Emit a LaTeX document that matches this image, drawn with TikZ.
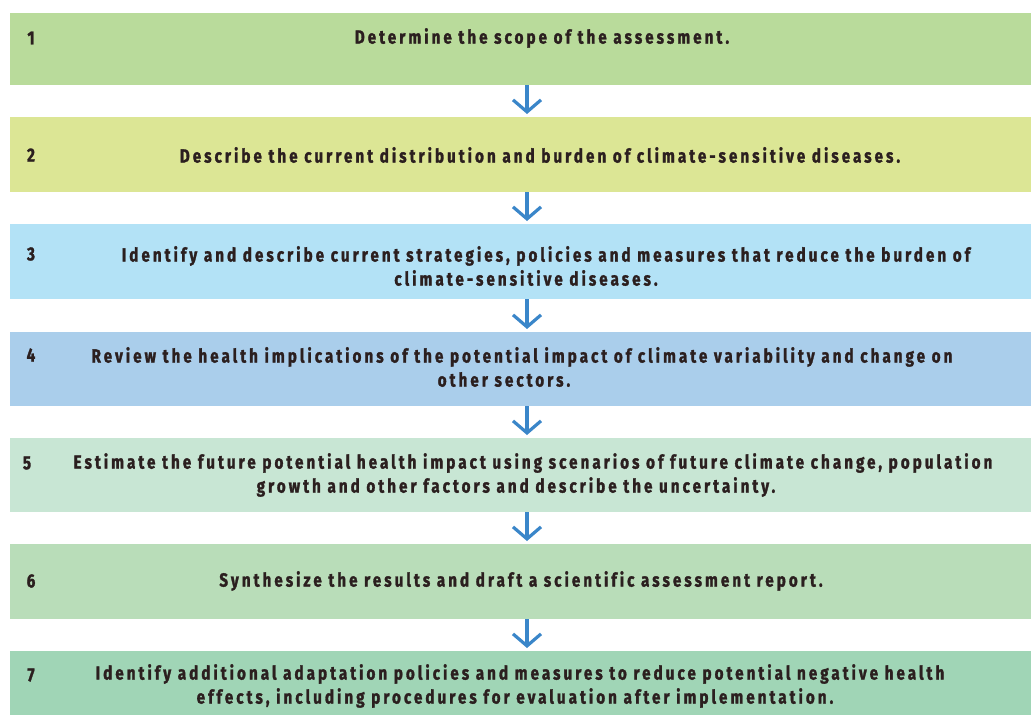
\documentclass[tikz,border=0pt]{standalone}
\usepackage{fontspec}
\newfontfamily\lblfont[FakeStretch=0.8,LetterSpace=16,FakeBold=1.5,Ligatures=NoCommon]{Fira Sans}
\usetikzlibrary{arrows.meta}
\definecolor{cA}{HTML}{B9DB9B}
\definecolor{cB}{HTML}{DCE695}
\definecolor{cC}{HTML}{B3E2F6}
\definecolor{cD}{HTML}{AACEEB}
\definecolor{cE}{HTML}{C8E6D4}
\definecolor{cF}{HTML}{B9DDB9}
\definecolor{cG}{HTML}{A0D5B6}
\definecolor{txt}{HTML}{2B1F1F}
\definecolor{arr}{HTML}{3A86C9}
\tikzset{
  box/.style={draw=none, rectangle, inner sep=0pt, minimum width=1021pt, anchor=north west},
  num/.style={font=\lblfont\bfseries\fontsize{19}{24}\selectfont, text=txt, inner sep=0pt},
  lbl/.style={font=\lblfont\bfseries\fontsize{19}{24}\selectfont, text=txt, inner sep=0pt, align=center},
  flow/.style={draw=arr, line width=3.2pt, -{Straight Barb[length=12pt,width=28pt,line width=3.2pt]}, shorten >=3pt}
}
\begin{document}
\begin{tikzpicture}[x=1pt,y=-1pt]
\useasboundingbox (0,0) rectangle (1031,715);
\node[box, fill=cA, minimum height=72pt] (b1) at (10,13) {};
\node[box, fill=cB, minimum height=75pt] (b2) at (10,117) {};
\node[box, fill=cC, minimum height=75pt] (b3) at (10,224) {};
\node[box, fill=cD, minimum height=74pt] (b4) at (10,332) {};
\node[box, fill=cE, minimum height=74pt] (b5) at (10,438) {};
\node[box, fill=cF, minimum height=75pt] (b6) at (10,544) {};
\node[box, fill=cG, minimum height=64pt] (b7) at (10,651) {};

\node[num] (n1) at (31,38) {1};
\node[num] (n2) at (31,155) {2};
\node[num] (n3) at (31,254) {3};
\node[num] (n4) at (31,355) {4};
\node[num] (n5) at (27,463) {5};
\node[num] (n6) at (31,581) {6};
\node[num] (n7) at (31,675) {7};

\node[lbl] (t1) at (542,38) {Determine the scope of the assessment.};
\node[lbl] (t2) at (540,155) {Describe the current distribution and burden of climate-sensitive diseases.};
\node[lbl] (t3) at (546,266) {Identify and describe current strategies, policies and measures that reduce the burden of\\\hspace*{-40pt}climate-sensitive diseases.};
\node[lbl] (t4) at (522,367) {Review the health implications of the potential impact of climate variability and change on\\\hspace*{-36pt}other sectors.};
\node[lbl] (t5) at (533,475) {Estimate the future potential health impact using scenarios of future climate change, population\\\hspace*{-34pt}growth and other factors and describe the uncertainty.};
\node[lbl] (t6) at (521,581) {Synthesize the results and draft a scientific assessment report.};
\node[lbl] (t7) at (520,686) {Identify additional adaptation policies and measures to reduce potential negative health\\\hspace*{-10pt}effects, including procedures for evaluation after implementation.};

\coordinate (ax) at (527,0);
\draw[flow] (b1.south -| ax) -- (b2.north -| ax);
\draw[flow] (b2.south -| ax) -- (b3.north -| ax);
\draw[flow] (b3.south -| ax) -- (b4.north -| ax);
\draw[flow] (b4.south -| ax) -- (b5.north -| ax);
\draw[flow] (b5.south -| ax) -- (b6.north -| ax);
\draw[flow] (b6.south -| ax) -- (b7.north -| ax);
\end{tikzpicture}
\end{document}
